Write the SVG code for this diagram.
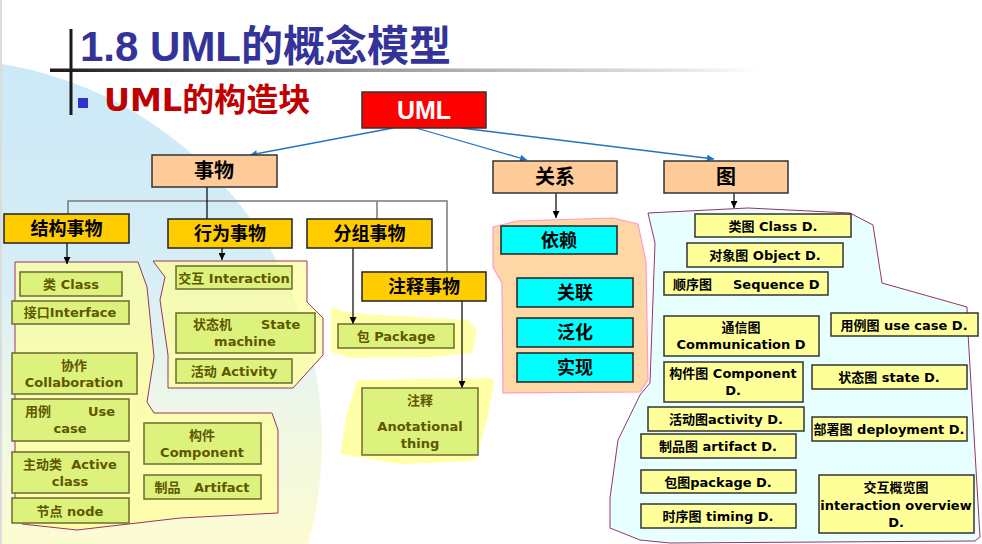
<svg xmlns="http://www.w3.org/2000/svg" width="982" height="544" viewBox="0 0 982 544">
<defs>
<linearGradient id="bg" x1="0" y1="59" x2="0" y2="544" gradientUnits="userSpaceOnUse">
<stop offset="0" stop-color="#cbe9f8"/>
<stop offset="0.45" stop-color="#d7eef6"/>
<stop offset="0.72" stop-color="#eef7e8"/>
<stop offset="1" stop-color="#fcfcd2"/>
</linearGradient>
<linearGradient id="rule" x1="50" y1="0" x2="760" y2="0" gradientUnits="userSpaceOnUse">
<stop offset="0" stop-color="#1a1a1a"/>
<stop offset="0.45" stop-color="#9a9a9a"/>
<stop offset="0.88" stop-color="#e4e4e4"/>
<stop offset="1" stop-color="#ffffff"/>
</linearGradient>
<marker id="ab" viewBox="0 0 8 8" refX="8" refY="4" markerWidth="7" markerHeight="7" markerUnits="userSpaceOnUse" orient="auto">
<path d="M0,0 L8,4 L0,8 z" fill="#000"/>
</marker>
<marker id="au" viewBox="0 0 8 8" refX="8" refY="4" markerWidth="8" markerHeight="7" markerUnits="userSpaceOnUse" orient="auto">
<path d="M0,0 L8,4 L0,8 z" fill="#1e73c8"/>
</marker>
</defs>
<style>
text{font-family:"DejaVu Sans","Noto Sans CJK SC",sans-serif;font-weight:bold;white-space:pre}
.hdr{fill:#ffcc00;stroke:#222;stroke-width:1.5}
.top{fill:#ffcc99;stroke:#333;stroke-width:1.5}
.cy{fill:#00ffff;stroke:#222;stroke-width:1.5}
.gb{fill:#dcf27c;stroke:#6e6a30;stroke-width:1.5}
.yb{fill:#ffff99;stroke:#333;stroke-width:1.5}
.ht{font-size:18px;fill:#000;text-anchor:middle}
.gt{font-size:13px;fill:#5f5700;text-anchor:middle}
.yt{font-size:13px;fill:#000;text-anchor:middle}
.reg{fill:#ffff99;fill-opacity:0.7;stroke:#993366;stroke-width:1}
.blob{fill:#ffff99;fill-opacity:0.85}
.gl{stroke:#7a7a7a;stroke-width:1.5;fill:none}
.bl{stroke:#000;stroke-width:1.2;fill:none}
</style>
<rect x="0" y="0" width="982" height="544" fill="#fff"/>
<circle cx="-60" cy="441" r="382" fill="url(#bg)"/>
<rect x="0" y="0" width="2" height="544" fill="#dcdcdc"/>

<g id="title">
<rect x="50" y="68.5" width="710" height="3.5" fill="url(#rule)"/>
<rect x="69.5" y="29" width="3" height="86" fill="#1a1a1a"/>
<text x="80" y="61" font-size="42" fill="#333399" style="font-family:'Liberation Sans','Noto Sans CJK SC',sans-serif">1.8 UML的概念模型</text>
<rect x="78" y="98" width="10" height="10" fill="#3333cc"/>
<text x="104" y="111" font-size="32" fill="#c00000">UML的构造块</text>
</g>

<g id="regions">
<polygon class="reg" points="15,262 138,262 147,287 154,357 147,402 154,413 272,413 278,430 278,513 180,518 77,530 22,524 15,513"/>
<polygon class="reg" points="153,261 307,261 307,302 323,318 323,355 293,388 168,388 168,355 160,300 165,277"/>
<polygon class="blob" points="331,307 350,313 430,318 468,320 477,331 472,353 430,357 350,358 331,352"/>
<polygon class="blob" points="357,380 492,378 494,383 487,420 475,461 400,464 340,454 347,413"/>
<polygon points="493,227 517,221 613,218 638,224 646,262 648,380 640,392 503,393 502,283 493,267" fill="#fdd7a6" stroke="#ff99cc" stroke-width="1.2"/>
<polygon points="648,213 748,208 850,213 873,225 882,283 967,307 968,333 980,537 975,541 670,543 640,540 610,528 610,498 618,440 640,395 650,383 655,243" fill="#e8ffff" stroke="#993366" stroke-width="1"/>
</g>

<g id="connectors">
<line x1="393" y1="128" x2="250" y2="155" stroke="#1e73c8" stroke-width="1.3" marker-end="url(#au)"/>
<line x1="416" y1="128" x2="527" y2="160" stroke="#1e73c8" stroke-width="1.3" marker-end="url(#au)"/>
<line x1="461" y1="128" x2="714" y2="159" stroke="#1e73c8" stroke-width="1.3" marker-end="url(#au)"/>
<polyline class="gl" points="68,214 68,201 447,201 447,272"/>
<line class="gl" x1="377" y1="201" x2="377" y2="219"/>
<line class="bl" x1="207" y1="187" x2="207" y2="219"/>
<line class="bl" x1="67" y1="243" x2="67" y2="264" marker-end="url(#ab)"/>
<line class="bl" x1="222" y1="248" x2="222" y2="260" marker-end="url(#ab)"/>
<line class="bl" x1="353" y1="248" x2="353" y2="324" marker-end="url(#ab)"/>
<line class="bl" x1="462" y1="301" x2="462" y2="388" marker-end="url(#ab)"/>
<line class="bl" x1="556" y1="193" x2="556" y2="218" marker-end="url(#ab)"/>
<line class="bl" x1="734" y1="193" x2="734" y2="208" marker-end="url(#ab)"/>
</g>

<g id="uml"><rect x="362" y="92" width="124" height="36" fill="#ff0000" stroke="#333" stroke-width="1.5"/><text x="424" y="119" font-size="25" fill="#fff" text-anchor="middle" style="font-family:'Liberation Sans',sans-serif">UML</text></g>
<g id="things"><rect class="top" x="152" y="155" width="125" height="32"/><text class="ht" x="214" y="178" style="font-size:20px">事物</text></g>
<g id="relations"><rect class="top" x="493" y="161" width="124" height="32"/><text class="ht" x="555" y="184" style="font-size:20px">关系</text></g>
<g id="diagrams"><rect class="top" x="664" y="161" width="124" height="32"/><text class="ht" x="726" y="184" style="font-size:20px">图</text></g>

<g id="structural"><rect class="hdr" x="4" y="214" width="125" height="29"/><text class="ht" x="66.5" y="235">结构事物</text></g>
<g id="behavioral"><rect class="hdr" x="168" y="219" width="124" height="29"/><text class="ht" x="230" y="240">行为事物</text></g>
<g id="grouping"><rect class="hdr" x="307" y="219" width="125" height="29"/><text class="ht" x="369.5" y="240">分组事物</text></g>
<g id="annotational"><rect class="hdr" x="362" y="272" width="124" height="29"/><text class="ht" x="424" y="293">注释事物</text></g>

<g id="class"><rect class="gb" x="20" y="272" width="102" height="24"/><text class="gt" x="71" y="289">类 Class</text></g>
<g id="interface"><rect class="gb" x="12" y="301" width="117" height="23"/><text class="gt" x="70" y="317">接口Interface</text></g>
<g id="collaboration"><rect class="gb" x="12" y="353" width="125" height="41"/><text class="gt" x="74" y="370">协作</text><text class="gt" x="74" y="387">Collaboration</text></g>
<g id="usecase"><rect class="gb" x="12" y="399" width="117" height="42"/><text class="gt" style="text-anchor:start" y="416"><tspan x="25">用例</tspan><tspan x="88">Use</tspan></text><text class="gt" x="70" y="433">case</text></g>
<g id="activeclass"><rect class="gb" x="12" y="452" width="117" height="41"/><text class="gt" x="70" y="469" xml:space="preserve">主动类  Active</text><text class="gt" x="70" y="486">class</text></g>
<g id="node"><rect class="gb" x="12" y="498" width="117" height="25"/><text class="gt" x="70" y="516">节点 node</text></g>
<g id="component"><rect class="gb" x="144" y="423" width="117" height="41"/><text class="gt" x="202" y="440">构件</text><text class="gt" x="202" y="457">Component</text></g>
<g id="artifact"><rect class="gb" x="144" y="475" width="117" height="24"/><text class="gt" x="202" y="492" xml:space="preserve">制品   Artifact</text></g>

<g id="interaction"><rect class="gb" x="176" y="266" width="116" height="23"/><text class="gt" x="234" y="283">交互 Interaction</text></g>
<g id="statemachine"><rect class="gb" x="176" y="313" width="139" height="40"/><text class="gt" style="text-anchor:start" y="329"><tspan x="193">状态机</tspan><tspan x="261">State</tspan></text><text class="gt" x="245" y="346">machine</text></g>
<g id="activity"><rect class="gb" x="176" y="359" width="116" height="24"/><text class="gt" x="234" y="376">活动 Activity</text></g>

<g id="package"><rect class="gb" x="338" y="324" width="116" height="24"/><text class="gt" x="396" y="341">包 Package</text></g>
<g id="note"><rect class="gb" x="362" y="388" width="116" height="67"/><text class="gt" x="420" y="405">注释</text><text class="gt" x="420" y="431">Anotational</text><text class="gt" x="420" y="448">thing</text></g>

<g id="dependency"><rect class="cy" x="501" y="226" width="116" height="28"/><text class="ht" x="559" y="247">依赖</text></g>
<g id="association"><rect class="cy" x="517" y="278" width="116" height="29"/><text class="ht" x="575" y="299">关联</text></g>
<g id="generalization"><rect class="cy" x="517" y="318" width="116" height="29"/><text class="ht" x="575" y="339">泛化</text></g>
<g id="realization"><rect class="cy" x="517" y="353" width="116" height="29"/><text class="ht" x="575" y="374">实现</text></g>

<g id="classd"><rect class="yb" x="695" y="214" width="156" height="23"/><text class="yt" x="773" y="231">类图 Class D.</text></g>
<g id="objectd"><rect class="yb" x="687" y="243" width="156" height="24"/><text class="yt" x="765" y="260">对象图 Object D.</text></g>
<g id="sequenced"><rect class="yb" x="664" y="272" width="164" height="23"/><text class="yt" style="text-anchor:start" y="289"><tspan x="673">顺序图</tspan><tspan x="733">Sequence D</tspan></text></g>
<g id="communicationd"><rect class="yb" x="664" y="316" width="155" height="40"/><text class="yt" x="741" y="332">通信图</text><text class="yt" x="741" y="349">Communication D</text></g>
<g id="usecased"><rect class="yb" x="831" y="313" width="147" height="23"/><text class="yt" x="904" y="330">用例图 use case D.</text></g>
<g id="componentd"><rect class="yb" x="664" y="362" width="139" height="40"/><text class="yt" x="733" y="378">构件图 Component</text><text class="yt" x="733" y="395">D.</text></g>
<g id="stated"><rect class="yb" x="812" y="365" width="155" height="24"/><text class="yt" x="889" y="382">状态图 state D.</text></g>
<g id="activityd"><rect class="yb" x="648" y="407" width="156" height="24"/><text class="yt" x="726" y="424">活动图activity D.</text></g>
<g id="deploymentd"><rect class="yb" x="812" y="417" width="155" height="24"/><text class="yt" x="889" y="434">部署图 deployment D.</text></g>
<g id="artifactd"><rect class="yb" x="641" y="434" width="155" height="24"/><text class="yt" x="718" y="451">制品图 artifact D.</text></g>
<g id="packaged"><rect class="yb" x="641" y="470" width="155" height="23"/><text class="yt" x="718" y="487">包图package D.</text></g>
<g id="timingd"><rect class="yb" x="641" y="504" width="155" height="24"/><text class="yt" x="718" y="521">时序图 timing D.</text></g>
<g id="overviewd"><rect class="yb" x="819" y="475" width="155" height="58"/><text class="yt" x="896" y="492">交互概览图</text><text class="yt" x="896" y="510">interaction overview</text><text class="yt" x="896" y="527">D.</text></g>
</svg>
